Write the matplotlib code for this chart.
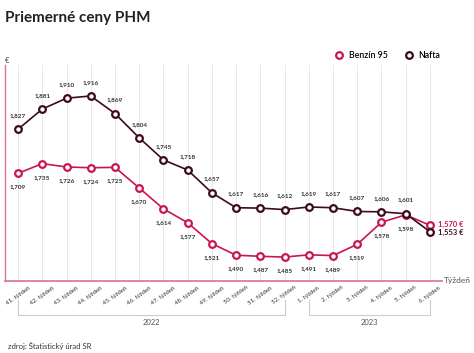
import matplotlib.pyplot as plt

plt.rcParams['font.family'] = ['Lato', 'DejaVu Sans']

weeks = ['41. týždeň', '42. týždeň', '43. týždeň', '44. týždeň', '45. týždeň',
         '46. týždeň', '47. týždeň', '48. týždeň', '49. týždeň', '50. týždeň',
         '51. týždeň', '52. týždeň', '1. týždeň', '2. týždeň', '3. týždeň',
         '4. týždeň', '5. týždeň', '6. týždeň']
benzin = [1.709, 1.735, 1.726, 1.724, 1.725, 1.670, 1.614, 1.577, 1.521,
          1.490, 1.487, 1.485, 1.491, 1.489, 1.519, 1.578, 1.598, 1.570]
nafta = [1.827, 1.881, 1.910, 1.916, 1.869, 1.804, 1.745, 1.718, 1.657,
         1.617, 1.616, 1.612, 1.619, 1.617, 1.607, 1.606, 1.601, 1.553]
years = [('2022', 0, 11), ('2023', 12, 17)]

c_benz = '#c8174f'
c_naf = '#3d0a1e'
c_axis = '#d9738f'

fig = plt.figure(figsize=(4.74, 3.53), dpi=100)
ax = fig.add_axes([0.0105, 0.204, 0.922, 0.612])

x = list(range(len(weeks)))
for vals, col, lab in [(benzin, c_benz, 'Benzín 95'), (nafta, c_naf, 'Nafta')]:
    ax.plot(x, vals, color=col, lw=1.2, marker='o', ms=4.8, mfc='white',
            mec=col, mew=1.6, label=lab, zorder=3)


def fmt(v):
    return f'{v:.3f}'.replace('.', ',')


for i in x[:-1]:
    ax.annotate(fmt(nafta[i]), (i, nafta[i]), xytext=(0, 8), textcoords='offset points',
                ha='center', va='bottom', fontsize=4.6, fontweight='bold', color='#333333')
    ax.annotate(fmt(benzin[i]), (i, benzin[i]), xytext=(0, -8), textcoords='offset points',
                ha='center', va='top', fontsize=4.6, fontweight='bold', color='#333333')
ax.annotate(fmt(benzin[-1]) + ' €', (x[-1], benzin[-1]), xytext=(6, 0.8), textcoords='offset points',
            ha='left', va='center', fontsize=5.4, fontweight='bold', color=c_benz)
ax.annotate(fmt(nafta[-1]) + ' €', (x[-1], nafta[-1]), xytext=(6, -0.8), textcoords='offset points',
            ha='left', va='center', fontsize=5.4, fontweight='bold', color=c_naf)

ax.set_xlim(-0.54, 17.5)
ax.set_ylim(1.421, 1.999)
ax.set_xticks(x)
ax.set_xticklabels(weeks, rotation=35, ha='center', va='top', fontsize=4.4, color='#333333')
ax.tick_params(axis='x', length=0, pad=3)
ax.set_yticks([])
ax.grid(axis='x', color='#e8e8e8', lw=0.7)
ax.set_axisbelow(True)
for s in ['top', 'right']:
    ax.spines[s].set_visible(False)
ax.spines['left'].set_color(c_axis)
ax.spines['left'].set_linewidth(1)
ax.spines['bottom'].set_color(c_axis)
ax.spines['bottom'].set_linewidth(1.2)

ax.text(1.004, 0.0, 'Týždeň', transform=ax.transAxes, ha='left', va='center',
        fontsize=6, color='#555555')
fig.text(0.011, 0.83, '€', ha='left', va='center', fontsize=5.5, color='#333333')

# year brackets under the week labels
trans = ax.get_xaxis_transform()
for yr, a, b in years:
    ax.plot([a, a, b, b], [-0.09, -0.158, -0.158, -0.09], color='#cccccc', lw=0.8,
            transform=trans, clip_on=False)
    ax.text((a + b) / 2, -0.175, yr, transform=trans, ha='center', va='top',
            fontsize=5.5, color='#555555')

fig.text(0.011, 0.948, 'Priemerné ceny PHM', ha='left', va='center', fontsize=11,
         fontweight='bold', color='#222222')
fig.text(0.017, 0.02, 'zdroj: Štatistický úrad SR', ha='left', va='center',
         fontsize=5.5, color='#333333')

fig.legend(loc='center right', bbox_to_anchor=(0.945, 0.842), ncol=2, frameon=False,
           handlelength=0.8, handletextpad=0.7, columnspacing=2.0,
           prop={'weight': 'semibold', 'size': 6.3})
for h in fig.legends[0].get_lines():
    h.set_linestyle('none')

fig.savefig('out.png', dpi=100)
